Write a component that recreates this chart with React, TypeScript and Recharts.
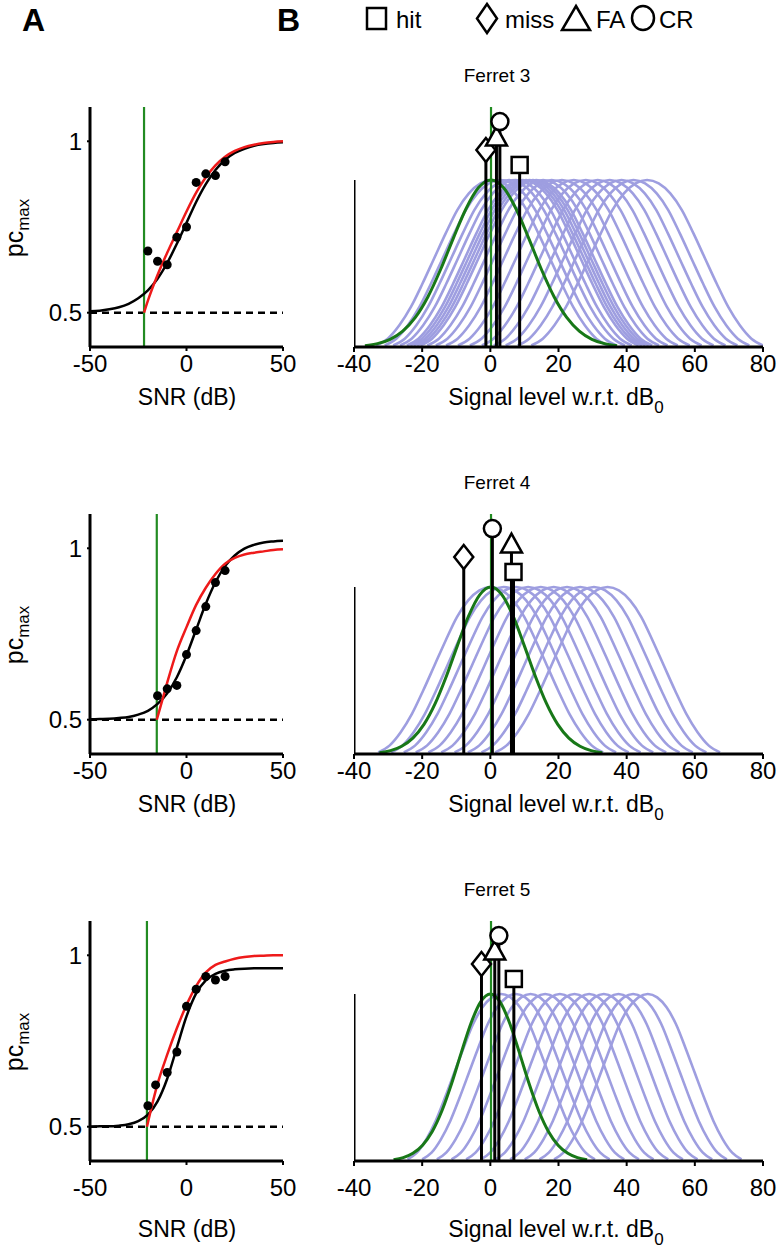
import React from "react";
import { ComposedChart, Line, XAxis, YAxis, Scatter } from "recharts";

const FONT = "'Liberation Sans', Arial, sans-serif";
const GREEN = "#228b22";
const DKGREEN = "#187818";
const RED = "#ee1a1a";
const BLUE = "#9e9ee0";

// ---------- Panel A : psychometric functions ----------
const SNR_TICKS = [-50, 0, 50];
const PC_TICKS = [0.5, 1];
const SNR_GRID = [-50, -45, -40, -35, -30, -25, -20, -15, -10, -5, 0, 5, 10, 15, 20, 25, 30, 35, 40, 45, 50];

const F3_FIT = [0.504, 0.506, 0.51, 0.516, 0.526, 0.542, 0.565, 0.599, 0.645, 0.701, 0.762, 0.823, 0.875, 0.916, 0.946, 0.966, 0.978, 0.987, 0.992, 0.995, 0.997];
const F3_MODEL_SNR = [-22, -20, -15, -10, -5, 0, 5, 10, 15, 20, 25, 30, 35, 40, 45, 50];
const F3_MODEL = [0.5, 0.535, 0.61, 0.675, 0.735, 0.795, 0.85, 0.895, 0.93, 0.955, 0.972, 0.983, 0.99, 0.995, 0.998, 1.0];
const F3_DATA_SNR = [-20, -15, -10, -5, 0, 5, 10, 15, 20];
const F3_DATA_PC = [0.68, 0.65, 0.64, 0.72, 0.75, 0.88, 0.905, 0.9, 0.94];
const F3_THRESHOLD = -22;

const F4_FIT = [0.501, 0.502, 0.503, 0.505, 0.508, 0.515, 0.526, 0.546, 0.577, 0.624, 0.688, 0.763, 0.838, 0.901, 0.948, 0.979, 0.999, 1.01, 1.017, 1.02, 1.022];
const F4_MODEL_SNR = [-15.4, -12, -10, -5, 0, 5, 10, 15, 20, 25, 30, 35, 40, 45, 50];
const F4_MODEL = [0.5, 0.568, 0.608, 0.7, 0.77, 0.835, 0.885, 0.925, 0.955, 0.972, 0.982, 0.987, 0.991, 0.995, 0.997];
const F4_DATA_SNR = [-15, -10, -5, 0, 5, 10, 15, 20];
const F4_DATA_PC = [0.57, 0.59, 0.6, 0.69, 0.76, 0.83, 0.9, 0.935];
const F4_THRESHOLD = -15.4;

const F5_FIT = [0.5, 0.501, 0.501, 0.503, 0.507, 0.516, 0.535, 0.574, 0.64, 0.731, 0.822, 0.889, 0.927, 0.946, 0.955, 0.959, 0.961, 0.962, 0.962, 0.962, 0.962];
const F5_MODEL_SNR = [-20.5, -15, -10, -5, 0, 5, 10, 15, 20, 25, 30, 35, 40, 45, 50];
const F5_MODEL = [0.5, 0.625, 0.71, 0.787, 0.855, 0.91, 0.95, 0.972, 0.982, 0.99, 0.995, 0.998, 0.999, 1.0, 1.0];
const F5_DATA_SNR = [-20, -16, -10, -5, 0, 5, 10, 15, 20];
const F5_DATA_PC = [0.561, 0.622, 0.658, 0.718, 0.851, 0.901, 0.938, 0.928, 0.938];
const F5_THRESHOLD = -20.5;

// ---------- Panel B : signal level distributions ----------
const LEVEL_TICKS = [-40, -20, 0, 20, 40, 60, 80];
const B_YMAX = 1.437;
const B_ZERO = 0.2;
const PROFILE_U = [-1, -0.9, -0.8, -0.7, -0.6, -0.5, -0.4, -0.3, -0.2, -0.1, 0, 0.1, 0.2, 0.3, 0.4, 0.5, 0.6, 0.7, 0.8, 0.9, 1];
const GREEN_PROFILE = [0.008, 0.02, 0.046, 0.095, 0.177, 0.301, 0.464, 0.649, 0.825, 0.953, 1, 0.953, 0.825, 0.649, 0.464, 0.301, 0.177, 0.095, 0.046, 0.02, 0.008];
const BLUE_PROFILE = [0.01, 0.05, 0.13, 0.24, 0.38, 0.53, 0.68, 0.82, 0.92, 0.98, 1, 0.98, 0.92, 0.82, 0.68, 0.53, 0.38, 0.24, 0.13, 0.05, 0.01];
// marker order: hit, miss, FA, CR
const MARKER_LEVEL = [1.09, 1.18, 1.26, 1.35];

const F3_GREEN_CENTER = 0.2;
const F3_GREEN_HALF = 37;
const F3_BLUE_CENTERS = [0.5, 3, 5.5, 7.5, 9.5, 10.5, 11.5, 12.5, 13.5, 15.5, 18, 21, 24.5, 28, 31.5, 35, 38.5, 42, 46];
const F3_BLUE_HALF = 34;
const F3_CUES = [8.6, -1.3, 1.8, 2.8];

const F4_GREEN_CENTER = 0.15;
const F4_GREEN_HALF = 32.7;
const F4_BLUE_CENTERS = [0.1, 3.9, 7.6, 11.1, 14.8, 18.6, 22.5, 26.4, 30.4, 34.4];
const F4_BLUE_HALF = 33;
const F4_CUES = [6.8, -7.8, 6.2, 0.6];

const F5_GREEN_CENTER = 0;
const F5_GREEN_HALF = 28.4;
const F5_BLUE_CENTERS = [3.2, 7.5, 11.8, 16.1, 20.4, 24.7, 29, 33.3, 37.6, 41.9, 46.2];
const F5_BLUE_HALF = 27.5;
const F5_CUES = [6.9, -2.6, 1.3, 2.5];

const ROW_TOPS = [107, 514, 921];
const ROW_TICK_GAP = [4, 4, 14];
const ROW_TITLE_Y = [405, 812, 1237];

type Pt = { x: number; y: number };
const zipPts = (xs: number[], ys: number[]): Pt[] => xs.map((x, i) => ({ x, y: ys[i] }));
const shapeCurve = (center: number, half: number, profile: number[]): Pt[] =>
  PROFILE_U.map((u, i) => ({ x: center + u * half, y: profile[i] }));

const tickStyle = { fill: "#000", fontSize: 24, fontFamily: FONT };
const axisLine = { stroke: "#000", strokeWidth: 3 };
const tickLine = { stroke: "#000", strokeWidth: 2 };

const SquareMark = (p: any) => (
  <rect x={p.cx - 8} y={p.cy - 8} width={16} height={16} fill="#fff" stroke="#000" strokeWidth={2.5} />
);
const DiamondMark = (p: any) => (
  <polygon points={`${p.cx},${p.cy - 12} ${p.cx + 9.5},${p.cy} ${p.cx},${p.cy + 12} ${p.cx - 9.5},${p.cy}`} fill="#fff" stroke="#000" strokeWidth={2.5} />
);
const TriangleMark = (p: any) => (
  <polygon points={`${p.cx},${p.cy - 10} ${p.cx + 10.5},${p.cy + 9} ${p.cx - 10.5},${p.cy + 9}`} fill="#fff" stroke="#000" strokeWidth={2.5} />
);
const CircleMark = (p: any) => <circle cx={p.cx} cy={p.cy} r={8.5} fill="#fff" stroke="#000" strokeWidth={2.5} />;
const MARKER_SHAPES = [SquareMark, DiamondMark, TriangleMark, CircleMark];
const DotMark = (p: any) => <circle cx={p.cx} cy={p.cy} r={4.5} fill="#000" />;

const lineBase = { dot: false, activeDot: false, isAnimationActive: false, dataKey: "y" } as any;

function PsychPanel(props: {
  top: number; tickGap: number; fit: number[]; modelSnr: number[]; model: number[];
  dataSnr: number[]; dataPc: number[]; threshold: number;
}) {
  const { top, tickGap, fit, modelSnr, model, dataSnr, dataPc, threshold } = props;
  return (
    <div style={{ position: "absolute", left: 0, top: top - 10 }}>
      <ComposedChart width={300} height={320} margin={{ top: 10, right: 17, bottom: 0, left: 0 }}>
        <XAxis type="number" dataKey="x" domain={[-50, 50]} ticks={SNR_TICKS} interval={0} allowDataOverflow
          height={70} axisLine={axisLine} tickLine={tickLine} tickSize={4} tickMargin={tickGap} tick={tickStyle} />
        <YAxis type="number" dataKey="y" domain={[0.4, 1.1]} ticks={PC_TICKS} interval={0} allowDataOverflow
          width={90} axisLine={axisLine} tickLine={tickLine} tickSize={3} tickMargin={5} tick={tickStyle}
          tickFormatter={(v: number) => String(v)} />
        <Line {...lineBase} data={zipPts([-50, 50], [0.5, 0.5])} stroke="#000" strokeWidth={2.5} strokeDasharray="7 5" />
        <Line {...lineBase} data={zipPts([threshold, threshold], [0.4, 1.1])} stroke={GREEN} strokeWidth={2.2} />
        <Line {...lineBase} data={zipPts(SNR_GRID, fit)} type="monotone" stroke="#000" strokeWidth={2.5} />
        <Line {...lineBase} data={zipPts(modelSnr, model)} type="monotone" stroke={RED} strokeWidth={2.5} />
        <Scatter data={zipPts(dataSnr, dataPc)} dataKey="y" fill="#000" shape={DotMark} isAnimationActive={false} />
      </ComposedChart>
    </div>
  );
}

function LevelPanel(props: {
  top: number; tickGap: number; greenCenter: number; greenHalf: number; blueCenters: number[]; blueHalf: number; cues: number[];
}) {
  const { top, tickGap, greenCenter, greenHalf, blueCenters, blueHalf, cues } = props;
  return (
    <div style={{ position: "absolute", left: 300, top: top - 10 }}>
      <ComposedChart width={479} height={320} margin={{ top: 10, right: 16, bottom: 0, left: 54 }}>
        <XAxis type="number" dataKey="x" domain={[-40, 80]} ticks={LEVEL_TICKS} interval={0} allowDataOverflow
          height={70} axisLine={axisLine} tickLine={tickLine} tickSize={5} tickMargin={tickGap - 1} tick={tickStyle} />
        <YAxis type="number" dataKey="y" domain={[0, B_YMAX]} allowDataOverflow hide width={0} />
        {blueCenters.map((c, i) => (
          <Line key={"b" + i} {...lineBase} data={shapeCurve(c, blueHalf, BLUE_PROFILE)} type="monotone" stroke={BLUE} strokeWidth={2.6} />
        ))}
        <Line {...lineBase} data={shapeCurve(greenCenter, greenHalf, GREEN_PROFILE)} type="monotone" stroke={DKGREEN} strokeWidth={3} />
        <Line {...lineBase} data={zipPts([-40, -40], [0, 1])} stroke="#000" strokeWidth={3} />
        <Line {...lineBase} data={zipPts([B_ZERO, B_ZERO], [0, B_YMAX])} stroke={GREEN} strokeWidth={2.2} />
        {cues.map((x, i) => (
          <Line key={"s" + i} {...lineBase} data={zipPts([x, x], [0, MARKER_LEVEL[i]])} stroke="#000" strokeWidth={3} />
        ))}
        {cues.map((x, i) => (
          <Scatter key={"m" + i} data={zipPts([x], [MARKER_LEVEL[i]])} dataKey="y" shape={MARKER_SHAPES[i]} isAnimationActive={false} />
        ))}
      </ComposedChart>
    </div>
  );
}

const TITLES = ["Ferret 3", "Ferret 4", "Ferret 5"];
const ROW_STEP = 407;

function Overlay() {
  return (
    <svg width={779} height={1253} style={{ position: "absolute", left: 0, top: 0, pointerEvents: "none" }}
      fontFamily={FONT} fill="#000">
      <text x={22} y={31} fontSize={32} fontWeight="bold">A</text>
      <text x={277} y={31} fontSize={32} fontWeight="bold">B</text>
      {/* legend */}
      <rect x={367} y={8} width={19} height={21} fill="#fff" stroke="#000" strokeWidth={2.5} />
      <text x={396} y={28} fontSize={24}>hit</text>
      <polygon points="487,4 497,18.5 487,33 477,18.5" fill="#fff" stroke="#000" strokeWidth={2.5} />
      <text x={505} y={28} fontSize={24}>miss</text>
      <polygon points="576,6 590,30 562,30" fill="#fff" stroke="#000" strokeWidth={2.5} />
      <text x={596} y={28} fontSize={24}>FA</text>
      <ellipse cx={643} cy={18} rx={11} ry={12} fill="#fff" stroke="#000" strokeWidth={2.5} />
      <text x={659} y={28} fontSize={24}>CR</text>
      {TITLES.map((t, r) => {
        const dy = r * ROW_STEP;
        return (
          <g key={t}>
            <text x={497} y={82 + dy} fontSize={19} textAnchor="middle">{t}</text>
            <text transform={`translate(23, ${228 + dy}) rotate(-90)`} fontSize={25} textAnchor="middle">
              pc<tspan fontSize={17} dy={6}>max</tspan>
            </text>
            <text x={187} y={ROW_TITLE_Y[r]} fontSize={23} textAnchor="middle">SNR (dB)</text>
            <text x={556} y={ROW_TITLE_Y[r]} fontSize={23} textAnchor="middle">
              Signal level w.r.t. dB<tspan fontSize={17} dy={8}>0</tspan>
            </text>
          </g>
        );
      })}
    </svg>
  );
}

export default function App() {
  return (
    <div style={{ position: "absolute", left: 0, top: 0, width: 779, height: 1253, background: "#fff" }}>
      <PsychPanel top={ROW_TOPS[0]} tickGap={ROW_TICK_GAP[0]} fit={F3_FIT} modelSnr={F3_MODEL_SNR} model={F3_MODEL} dataSnr={F3_DATA_SNR} dataPc={F3_DATA_PC} threshold={F3_THRESHOLD} />
      <PsychPanel top={ROW_TOPS[1]} tickGap={ROW_TICK_GAP[1]} fit={F4_FIT} modelSnr={F4_MODEL_SNR} model={F4_MODEL} dataSnr={F4_DATA_SNR} dataPc={F4_DATA_PC} threshold={F4_THRESHOLD} />
      <PsychPanel top={ROW_TOPS[2]} tickGap={ROW_TICK_GAP[2]} fit={F5_FIT} modelSnr={F5_MODEL_SNR} model={F5_MODEL} dataSnr={F5_DATA_SNR} dataPc={F5_DATA_PC} threshold={F5_THRESHOLD} />
      <LevelPanel top={ROW_TOPS[0]} tickGap={ROW_TICK_GAP[0]} greenCenter={F3_GREEN_CENTER} greenHalf={F3_GREEN_HALF} blueCenters={F3_BLUE_CENTERS} blueHalf={F3_BLUE_HALF} cues={F3_CUES} />
      <LevelPanel top={ROW_TOPS[1]} tickGap={ROW_TICK_GAP[1]} greenCenter={F4_GREEN_CENTER} greenHalf={F4_GREEN_HALF} blueCenters={F4_BLUE_CENTERS} blueHalf={F4_BLUE_HALF} cues={F4_CUES} />
      <LevelPanel top={ROW_TOPS[2]} tickGap={ROW_TICK_GAP[2]} greenCenter={F5_GREEN_CENTER} greenHalf={F5_GREEN_HALF} blueCenters={F5_BLUE_CENTERS} blueHalf={F5_BLUE_HALF} cues={F5_CUES} />
      <Overlay />
    </div>
  );
}
